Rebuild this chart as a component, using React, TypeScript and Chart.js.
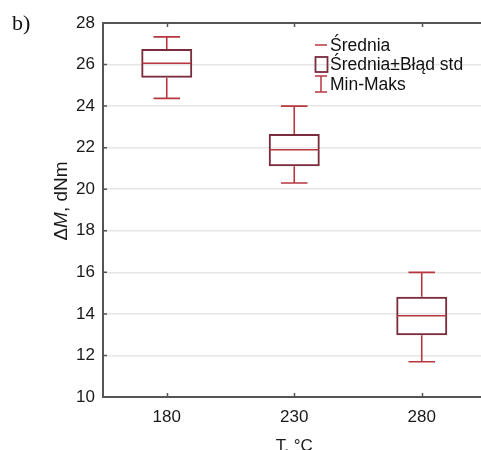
import React, { useEffect, useRef } from 'react';
import { Chart, registerables } from 'chart.js';

Chart.register(...registerables);

const categories = ['180', '230', '280'];
const means = [26.06, 21.9, 13.91];
const seLow = [25.37, 21.1, 12.97];
const seHigh = [26.75, 22.66, 14.82];
const mins = [24.37, 20.3, 11.7];
const maxs = [27.33, 24.0, 16.0];
const legendLabels = ['Średnia', 'Średnia±Błąd std', 'Min-Maks'];
const panelLabel = 'b)';
const xTitle = 'T, °C';

const BOX = '#7a2b3c';
const WHISK = '#b8373f';
const AXIS = '#555555';
const FONT = '"Liberation Sans", Arial, sans-serif';

const overlay = {
  id: 'overlay',
  afterDatasetsDraw(chart: any) {
    const { ctx, scales } = chart;
    const x = scales.x;
    const y = scales.y;
    const meta = chart.getDatasetMeta(0);
    ctx.save();
    ctx.strokeStyle = WHISK;
    ctx.lineWidth = 1.6;
    categories.forEach((_, i) => {
      const cx = x.getPixelForValue(i);
      const bw = meta.data[i].width;
      const yMax = y.getPixelForValue(maxs[i]);
      const yMin = y.getPixelForValue(mins[i]);
      const yHi = y.getPixelForValue(seHigh[i]);
      const yLo = y.getPixelForValue(seLow[i]);
      const yMean = y.getPixelForValue(means[i]);
      const cap = bw * 0.26;
      ctx.beginPath();
      ctx.moveTo(cx, yHi); ctx.lineTo(cx, yMax);
      ctx.moveTo(cx - cap, yMax); ctx.lineTo(cx + cap, yMax);
      ctx.moveTo(cx, yLo); ctx.lineTo(cx, yMin);
      ctx.moveTo(cx - cap, yMin); ctx.lineTo(cx + cap, yMin);
      ctx.moveTo(cx - bw / 2 + 1, yMean); ctx.lineTo(cx + bw / 2 - 1, yMean);
      ctx.stroke();
    });
    ctx.restore();
  },
  afterDraw(chart: any) {
    const { ctx, chartArea: ca, scales } = chart;
    const x = scales.x;
    const y = scales.y;
    ctx.save();
    // top frame
    ctx.strokeStyle = AXIS;
    ctx.lineWidth = 2;
    ctx.beginPath();
    ctx.moveTo(ca.left - 1, ca.top);
    ctx.lineTo(ca.right, ca.top);
    ctx.stroke();
    // inward ticks
    ctx.lineWidth = 1.5;
    ctx.beginPath();
    categories.forEach((_, i) => {
      const cx = Math.round(x.getPixelForValue(i)) + 0.5;
      ctx.moveTo(cx, ca.top); ctx.lineTo(cx, ca.top + 4);
      ctx.moveTo(cx, ca.bottom); ctx.lineTo(cx, ca.bottom - 4);
    });
    y.ticks.forEach((t: any) => {
      const py = y.getPixelForValue(t.value);
      ctx.moveTo(ca.left, py); ctx.lineTo(ca.left + 4, py);
    });
    ctx.stroke();

    // panel label
    ctx.fillStyle = '#111';
    ctx.font = '22px "Liberation Serif", "Times New Roman", serif';
    ctx.textBaseline = 'alphabetic';
    ctx.textAlign = 'left';
    ctx.fillText(panelLabel, 12, 30);

    // x title
    ctx.font = '17px ' + FONT;
    ctx.fillStyle = '#1a1a1a';
    ctx.textAlign = 'center';
    ctx.fillText(xTitle, (ca.left + ca.right) / 2, ca.bottom + 54);

    // y title: ΔM, dNm (M italic)
    ctx.save();
    ctx.translate(ca.left - 36, ca.top + 178);
    ctx.rotate(-Math.PI / 2);
    ctx.textAlign = 'left';
    const parts: [string, string][] = [
      ['Δ', '19px ' + FONT],
      ['M', 'italic 19px ' + FONT],
      [', dNm', '19px ' + FONT],
    ];
    let total = 0;
    parts.forEach(([s, f]) => { ctx.font = f; total += ctx.measureText(s).width; });
    let px = -total / 2;
    parts.forEach(([s, f]) => { ctx.font = f; ctx.fillText(s, px, 0); px += ctx.measureText(s).width; });
    ctx.restore();

    // legend
    const gx = ca.left + 212;
    const rows = [ca.top + 22, ca.top + 41.5, ca.top + 61];
    ctx.font = '17.5px ' + FONT;
    ctx.textAlign = 'left';
    ctx.textBaseline = 'middle';
    ctx.fillStyle = '#111';
    legendLabels.forEach((lab, i) => ctx.fillText(lab, gx + 15, rows[i] + 1));
    ctx.lineWidth = 1.5;
    ctx.strokeStyle = WHISK;
    ctx.beginPath();
    ctx.moveTo(gx, rows[0]); ctx.lineTo(gx + 12, rows[0]);
    ctx.stroke();
    ctx.strokeStyle = BOX;
    ctx.lineWidth = 1.8;
    ctx.strokeRect(gx + 0.5, rows[1] - 7.5, 12, 15);
    ctx.strokeStyle = WHISK;
    ctx.lineWidth = 1.5;
    ctx.beginPath();
    ctx.moveTo(gx, rows[2] - 8); ctx.lineTo(gx + 12, rows[2] - 8);
    ctx.moveTo(gx + 6, rows[2] - 8); ctx.lineTo(gx + 6, rows[2] + 8);
    ctx.moveTo(gx, rows[2] + 8); ctx.lineTo(gx + 12, rows[2] + 8);
    ctx.stroke();
    ctx.restore();
  },
};

export default function App() {
  const ref = useRef<HTMLCanvasElement>(null);
  useEffect(() => {
    if (!ref.current) return;
    const chart = new Chart(ref.current, {
      type: 'bar',
      data: {
        labels: categories,
        datasets: [
          {
            data: seLow.map((l, i) => [l, seHigh[i]]) as any,
            backgroundColor: 'rgba(0,0,0,0)',
            borderColor: BOX,
            borderWidth: 2,
            borderSkipped: false,
            barPercentage: 0.4,
            categoryPercentage: 1,
          },
        ],
      },
      options: {
        responsive: false,
        animation: false,
        events: [],
        layout: { padding: { top: 23, right: 4.5, left: 0, bottom: 0 } },
        plugins: { legend: { display: false }, tooltip: { enabled: false } },
        scales: {
          x: {
            offset: true,
            grid: { display: false, drawTicks: false },
            border: { display: true, color: AXIS, width: 2 },
            ticks: { color: '#1a1a1a', font: { family: FONT, size: 17 }, padding: 10 },
            afterFit: (s: any) => { s.height = 63; },
          },
          y: {
            min: 10,
            max: 28,
            ticks: { stepSize: 2, color: '#1a1a1a', font: { family: FONT, size: 17 }, padding: 8 },
            grid: { color: '#e6e6e6', lineWidth: 1.5, drawTicks: false },
            border: { display: true, color: AXIS, width: 2 },
            afterFit: (s: any) => { s.width = 103; },
          },
        },
      },
      plugins: [overlay],
    });
    return () => chart.destroy();
  }, []);
  return (
    <div style={{ position: 'fixed', left: 0, top: 0, background: '#fff' }}>
      <canvas ref={ref} width={490} height={460} style={{ width: 490, height: 460, display: 'block' }} />
    </div>
  );
}
